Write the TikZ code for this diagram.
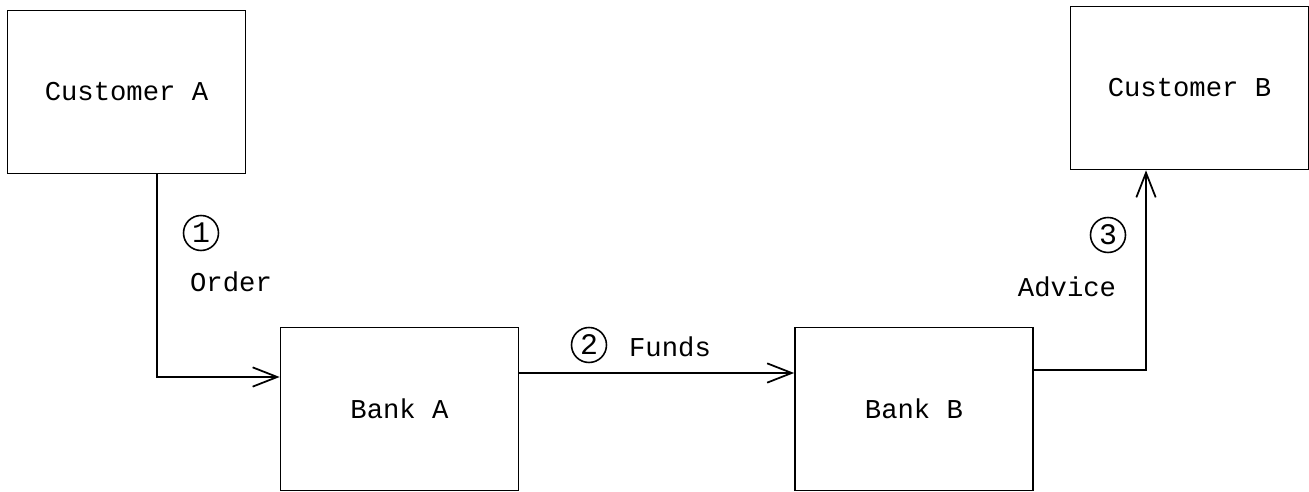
\documentclass[tikz,border=0pt]{standalone}
\usepackage{fontspec}
\setmainfont{Liberation Mono}
\usetikzlibrary{arrows.meta}

\begin{document}
\begin{tikzpicture}[x=0.02cm,y=-0.02cm,
    box/.style={draw,rectangle,line width=1pt,minimum width=4.76cm,
    minimum height=3.26cm,font=\fontsize{15.5}{18}\selectfont},
    flow/.style={line width=1pt,
    -{Straight Barb[length=14pt,width=11pt,line width=1pt]}},
    num/.style={draw,circle,line width=0.9pt,inner sep=0pt,
    minimum size=0.7cm,font=\fontsize{17}{20}\selectfont},
    lbl/.style={font=\fontsize{15.5}{18}\selectfont}]
    \useasboundingbox (0,0) rectangle (1309,492);

    \node [box] (custA) at (126.5, 92) {Customer A};
    \node [box] (bankA) at (399.5, 409) {Bank A};
    \node [box] (bankB) at (914, 409) {Bank B};
    \node [box] (custB) at (1189.5, 88) {Customer B};

    \draw [flow] ([xshift=0.61cm]custA.south) |- ([yshift=0.64cm]bankA.west);
    \draw [flow] ([yshift=0.72cm]bankA.east) -- ([yshift=0.72cm]bankB.west);
    \draw [flow] ([yshift=0.78cm]bankB.east) -| ([xshift=-0.87cm]custB.south);

    \node [num] (num1) at (201, 233) {1};
    \node [lbl] (order) at (231, 282) {Order};

    \node [num] (num2) at (589, 345) {2};
    \node [lbl] (funds) at (670, 347) {Funds};

    \node [num] (num3) at (1108, 235) {3};
    \node [lbl] (advice) at (1067, 287) {Advice};
  \end{tikzpicture}
\end{document}
